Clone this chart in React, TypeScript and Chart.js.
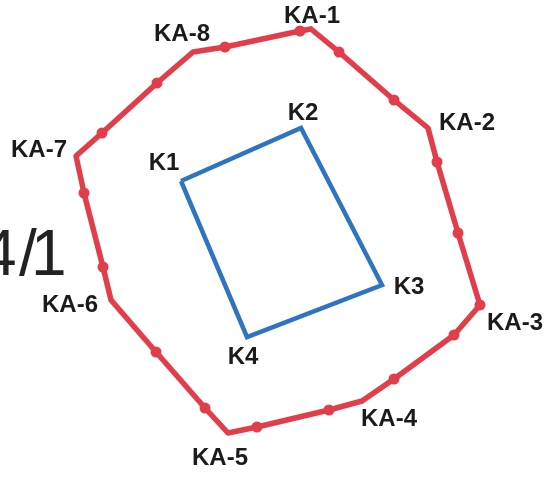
import React, { useEffect, useRef } from "react";
import { Chart, registerables } from "chart.js";

Chart.register(...registerables);

// Site boundary (KA) — corners and intermediate stakes, drawing units (y grows downward)
const boundaryX = [311, 339, 394, 428, 437, 458, 480, 454, 394, 362, 329, 257, 228, 205, 156, 111, 103, 84, 76, 102, 157, 193, 225, 300];
const boundaryY = [29, 52, 100, 128, 162, 233, 305, 335, 379, 401, 410, 427, 433, 408, 352, 300, 267, 193, 156, 133, 83, 52, 47, 31];
const boundaryLabels = ["KA-1", "", "", "KA-2", "", "", "KA-3", "", "", "KA-4", "", "", "KA-5", "", "", "KA-6", "", "", "KA-7", "", "", "KA-8", "", ""];
const boundaryStake = [false, true, true, false, true, true, true, true, true, false, true, true, false, true, true, false, true, true, false, true, true, false, true, true];

// Building footprint (K)
const buildingX = [181, 301, 382, 247];
const buildingY = [181, 128, 285, 337];
const buildingLabels = ["K1", "K2", "K3", "K4"];

// Parcel number text
const parcelText = ["4", "/", "1"];

const RED = "#e13d4b";
const BLUE = "#2e74c0";
const INK = "#1b1b1b";

const labelOffsets: Record<string, [number, number]> = {
  "KA-1": [1, -13],
  "KA-2": [39, -5],
  "KA-3": [35, 18],
  "KA-4": [27, 18],
  "KA-5": [-8, 25],
  "KA-6": [-41, 5],
  "KA-7": [-37, -6],
  "KA-8": [-11, -18],
  K1: [-17, -18],
  K2: [2, -15],
  K3: [27, 2],
  K4: [-4, 20],
};

const parcelGlyphX = [-19, 19, 31];

export default function App() {
  const ref = useRef<HTMLCanvasElement | null>(null);

  useEffect(() => {
    if (!ref.current) return;
    const boundary = boundaryX.map((x, i) => ({ x, y: boundaryY[i] }));
    const building = buildingX.map((x, i) => ({ x, y: buildingY[i] }));

    const labelPlugin = {
      id: "pointLabels",
      afterDatasetsDraw(chart: any) {
        const ctx = chart.ctx as CanvasRenderingContext2D;
        const xs = chart.scales.x;
        const ys = chart.scales.y;
        ctx.save();
        ctx.fillStyle = INK;
        ctx.font = 'bold 24px "Liberation Sans", Arial, sans-serif';
        ctx.textAlign = "center";
        ctx.textBaseline = "middle";
        const draw = (name: string, x: number, y: number) => {
          if (!name) return;
          const off = labelOffsets[name] || [0, 0];
          ctx.fillText(name, xs.getPixelForValue(x) + off[0], ys.getPixelForValue(y) + off[1]);
        };
        boundaryLabels.forEach((n, i) => draw(n, boundaryX[i], boundaryY[i]));
        buildingLabels.forEach((n, i) => draw(n, buildingX[i], buildingY[i]));

        ctx.fillStyle = "#222222";
        ctx.font = '64px "Liberation Sans", Arial, sans-serif';
        ctx.textAlign = "left";
        ctx.textBaseline = "alphabetic";
        parcelText.forEach((c, i) => ctx.fillText(c, parcelGlyphX[i], 275));
        ctx.restore();
      },
    };

    const chart = new Chart(ref.current, {
      type: "scatter",
      data: {
        datasets: [
          {
            data: [...boundary, boundary[0]],
            showLine: true,
            borderColor: RED,
            backgroundColor: RED,
            borderWidth: 5.5,
            borderJoinStyle: "round",
            borderCapStyle: "round",
            pointRadius: [...boundaryStake, false].map((s) => (s ? 5.5 : 0)),
            pointBorderWidth: 0,
            pointBackgroundColor: RED,
            tension: 0,
          },
          {
            data: [...building, building[0]],
            showLine: true,
            borderColor: BLUE,
            backgroundColor: BLUE,
            borderWidth: 4.5,
            borderJoinStyle: "miter",
            pointRadius: 0,
            tension: 0,
          },
        ],
      },
      options: {
        animation: false,
        responsive: false,
        layout: { padding: 0 },
        plugins: { legend: { display: false }, tooltip: { enabled: false } },
        scales: {
          x: { type: "linear", min: 0, max: 545, display: false },
          y: { type: "linear", min: 0, max: 479, reverse: true, display: false },
        },
      },
      plugins: [labelPlugin],
    });
    return () => chart.destroy();
  }, []);

  return (
    <div style={{ position: "fixed", left: 0, top: 0, width: 545, height: 479, background: "#fff" }}>
      <canvas ref={ref} width={545} height={479} style={{ display: "block" }} />
    </div>
  );
}
